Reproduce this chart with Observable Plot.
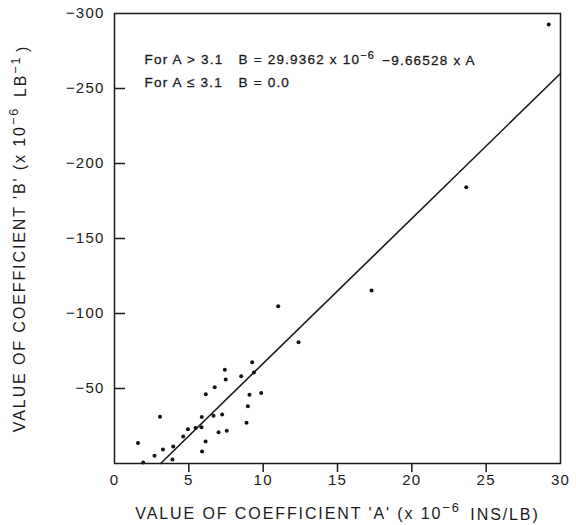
<!DOCTYPE html>
<html>
<head>
<meta charset="utf-8">
<script src="https://cdn.jsdelivr.net/npm/d3@7"></script>
<script src="https://cdn.jsdelivr.net/npm/@observablehq/plot@0.6"></script>
<style>
  html, body { margin: 0; padding: 0; background: #fff; }
  svg { display: block; }
</style>
</head>
<body>
<div id="chart"></div>
<script>
// Measured data points: coefficient A (x 10^-6 ins/lb) vs coefficient B (x 10^-6 lb^-1)
const coefA = [1.58, 1.93, 2.69, 3.26, 3.95, 3.90, 3.06, 4.62, 4.94, 5.45, 5.87, 5.85, 6.13, 5.89,
  6.14, 6.66, 6.74, 7.00, 7.24, 7.42, 7.48, 7.55, 8.52, 9.08, 8.97, 8.88, 9.26, 9.38, 9.87,
  11.01, 12.38, 17.29, 23.66, 29.21];
const coefB = [-13.7, -0.7, -5.1, -9.3, -11.3, -2.7, -31.1, -18.0, -22.9, -23.7, -31.0, -24.2, -14.7, -8.0,
  -46.2, -31.8, -50.9, -20.9, -32.7, -62.5, -56.0, -21.8, -58.2, -45.8, -38.2, -27.1, -67.5, -60.7, -47.0,
  -104.9, -80.9, -115.3, -184.2, -292.7];
// Fitted line end points (B = 29.9362 - 9.66528 A for A > 3.1)
const fitA = [3.1, 30];
const fitB = [0, -260.0];
const xTicks = [0, 5, 10, 15, 20, 25, 30];
const yTicks = [-50, -100, -150, -200, -250, -300];
const innerXTicks = [5, 10, 15, 20, 25];
const innerYTicks = [-50, -100, -150, -200, -250];
const xTitle = "VALUE OF COEFFICIENT 'A' (x 10^{−6} INS/LB)";
const yTitle = "VALUE OF COEFFICIENT 'B' (x 10^{−6} LB^{−1})";
const note1a = "For A > 3.1";
const note1b = "B = 29.9362 x 10^{−6} −9.66528 x A";
const note2a = "For A ≤ 3.1";
const note2b = "B = 0.0";

const points = coefA.map((a, i) => ({a, b: coefB[i]}));
const fit = fitA.map((a, i) => ({a, b: fitB[i]}));

const font = "'Liberation Sans', Arial, Helvetica, sans-serif";
const noteStyle = {frameAnchor: "top-left", textAnchor: "start", fontSize: 13.5, fill: "#1a1a1a", stroke: "#1a1a1a", strokeWidth: 0.3};

const chart = Plot.plot({
  width: 576,
  height: 525,
  marginLeft: 114,
  marginRight: 16,
  marginTop: 13,
  marginBottom: 62,
  style: {fontFamily: font, fontSize: "15px", color: "#1a1a1a", background: "#fff"},
  x: {domain: [0, 30]},
  y: {domain: [0, -300]},
  marks: [
    Plot.axisX(xTicks, {tickSize: 0, tickPadding: 11, fontSize: 15,
      label: xTitle, labelAnchor: "center", labelOffset: 55, labelArrow: "none"}),
    Plot.axisY(yTicks, {tickSize: 0, tickPadding: 10, fontSize: 15,
      label: yTitle, labelAnchor: "center", labelOffset: 101, labelArrow: "none"}),
    Plot.ruleX(innerXTicks, {x: d => d, y1: 0, y2: 6, stroke: "#1a1a1a", strokeWidth: 1.5}),
    Plot.ruleY(innerYTicks, {y: d => d, x1: 0, x2: 0.74, stroke: "#1a1a1a", strokeWidth: 1.5}),
    Plot.line(fit, {x: "a", y: "b", stroke: "#1a1a1a", strokeWidth: 1.6}),
    Plot.dot(points, {x: "a", y: "b", r: 2, fill: "#111", stroke: null}),
    Plot.text([note1a], {...noteStyle, dx: 30, dy: 41}),
    Plot.text([note1b], {...noteStyle, dx: 124, dy: 41}),
    Plot.text([note2a], {...noteStyle, dx: 30, dy: 64}),
    Plot.text([note2b], {...noteStyle, dx: 124, dy: 64}),
    Plot.frame({stroke: "#1a1a1a", strokeWidth: 1.5})
  ]
});

const svg = d3.select(chart);
// superscripts written as ^{...} become raised tspans
svg.selectAll("text").each(function() {
  const el = d3.select(this);
  const tspans = el.selectAll("tspan");
  const targets = tspans.empty() ? [this] : tspans.nodes();
  targets.forEach(node => {
    const s = node.textContent;
    if (!s.includes("^{")) return;
    const parts = s.split(/\^\{([^}]*)\}/);
    const n = d3.select(node);
    n.text(null);
    parts.forEach((p, i) => {
      if (p === "") return;
      if (i % 2 === 1) {
        n.append("tspan").attr("dy", "-0.5em").attr("font-size", "80%").text(p);
        n.append("tspan").attr("dy", "0.5em").text("\u200A");
      } else {
        n.append("tspan").text(p);
      }
    });
  });
});
svg.selectAll('g[aria-label="x-axis label"] text, g[aria-label="y-axis label"] text')
  .style("font-size", "16px").style("letter-spacing", "1.9px");
svg.selectAll('g[aria-label="x-axis tick label"] text, g[aria-label="y-axis tick label"] text')
  .style("letter-spacing", "1.2px");
svg.selectAll('g[aria-label="text"] text').style("letter-spacing", "1.2px");

document.getElementById("chart").appendChild(chart);
</script>
</body>
</html>
